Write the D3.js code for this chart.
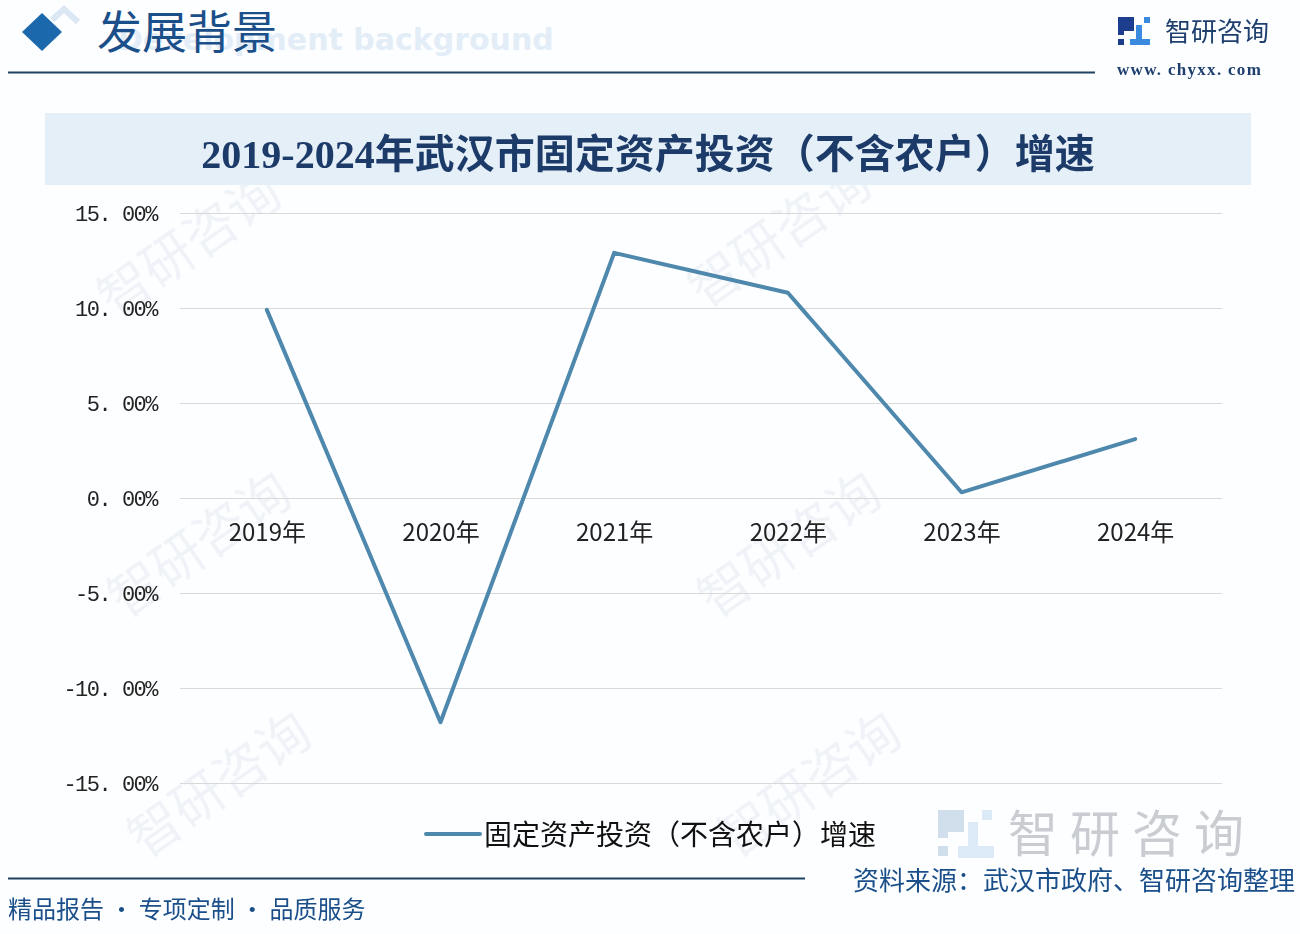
<!DOCTYPE html>
<html><head><meta charset="utf-8">
<script src="https://cdn.jsdelivr.net/npm/d3@7"></script>
<style>body{margin:0;background:#fff;} svg{display:block;}</style>
</head><body>
<svg id="c" width="1300" height="934"></svg>
<script>
const years = ["2019年","2020年","2021年","2022年","2023年","2024年"];
const growth = [9.9, -11.8, 12.9, 10.8, 0.3, 3.1];
const yTicks = [15, 10, 5, 0, -5, -10, -15];
const titleText = "2019-2024年武汉市固定资产投资（不含农户）增速";
const seriesName = "固定资产投资（不含农户）增速";

const svg = d3.select("#c");
const cjk = "'Noto Sans CJK SC','Noto Sans',sans-serif";

// background
svg.append("rect").attr("width",1300).attr("height",934).attr("fill","#fdfeff");

// watermarks
const wm = svg.append("g").attr("opacity",0.06);
[[200,260],[790,250],[210,560],[800,560],[230,800],[820,800]].forEach(([x,y])=>{
  wm.append("text").attr("transform",`translate(${x},${y}) rotate(-35)`)
    .attr("text-anchor","middle").attr("font-family",cjk).attr("font-size",52)
    .attr("fill","#1a4f8a").text("智研咨询");
});

// header
svg.append("path").attr("d","M22,32 L42,13 L62,32 L42,51 Z").attr("fill","#1c68ad");
svg.append("path").attr("d","M52,20 L64,9 L78,22").attr("fill","none").attr("stroke","#dbe7f2").attr("stroke-width",6);
svg.append("text").attr("x",118).attr("y",50).attr("font-family","'DejaVu Sans',sans-serif")
  .attr("font-weight","bold").attr("font-size",30).attr("fill","#e3edf7").text("Development background");
svg.append("text").attr("x",97).attr("y",49).attr("font-family",cjk).attr("font-size",45)
  .attr("fill","#1b4f8a").text("发展背景");
svg.append("line").attr("x1",8).attr("x2",1095).attr("y1",72.5).attr("y2",72.5)
  .attr("stroke","#1f4262").attr("stroke-width",2);

// logo top right
const lg = svg.append("g").attr("transform","translate(1118,17)");
lg.append("path").attr("d","M0,0 H16 V14 H6 V18 H0 Z").attr("fill","#1d3d8f");
lg.append("rect").attr("x",0).attr("y",22).attr("width",6).attr("height",6).attr("fill","#1d3d8f");
lg.append("path").attr("d","M18,8 H24 V22 H32 V28 H12 V22 H18 Z").attr("fill","#3a8ae0");
lg.append("rect").attr("x",26).attr("y",0).attr("width",6).attr("height",6).attr("fill","#3a8ae0");
svg.append("text").attr("x",1165).attr("y",41).attr("font-family",cjk).attr("font-size",26)
  .attr("fill","#1f3f6e").text("智研咨询");
svg.append("text").attr("x",1117).attr("y",75).attr("font-family","'Liberation Serif',serif")
  .attr("font-weight","bold").attr("font-size",17).attr("fill","#1f3f6e").attr("letter-spacing",1.3).text("www. chyxx. com");

// title box
svg.append("rect").attr("x",45).attr("y",113).attr("width",1206).attr("height",72).attr("fill","#e5eff8");
svg.append("text").attr("x",648).attr("y",168).attr("text-anchor","middle")
  .attr("font-family","'Liberation Serif','Noto Sans CJK SC',serif").attr("font-weight","bold")
  .attr("font-size",40).attr("fill","#1c3b68").text(titleText);

// scales
const x = d3.scalePoint().domain(years).range([180,1222]).padding(0.5);
const y = d3.scaleLinear().domain([-15,15]).range([783,213]);

// grid
svg.append("g").selectAll("line").data(yTicks).join("line")
  .attr("x1",180).attr("x2",1222).attr("y1",d=>y(d)+0.5).attr("y2",d=>y(d)+0.5)
  .attr("stroke","#d9d9d9").attr("stroke-width",1);

// y axis
const yAxis = d3.axisLeft(y).tickValues(yTicks).tickSize(0).tickPadding(0)
  .tickFormat(d=>d3.format(".2f")(d).replace(".",". ").replace("−","-")+"%");
const ya = svg.append("g").attr("transform","translate(157,0)").call(yAxis);
ya.select(".domain").remove();
ya.selectAll("text").attr("font-family","'Liberation Mono','DejaVu Sans Mono',monospace")
  .attr("font-size",22).attr("fill","#222").attr("dy","0.35em").attr("letter-spacing",-1.5);

// x axis labels at zero line
const xAxis = d3.axisBottom(x).tickSize(0).tickPadding(0);
const xa = svg.append("g").attr("transform",`translate(0,${y(0)})`).call(xAxis);
xa.select(".domain").remove();
xa.selectAll("text").attr("font-family",cjk).attr("font-size",24).attr("fill","#222")
  .attr("dy",0).attr("y",43);

// line
const line = d3.line().x((d,i)=>x(years[i])).y(d=>y(d));
svg.append("path").datum(growth).attr("d",line).attr("fill","none")
  .attr("stroke","#4f88ad").attr("stroke-width",4).attr("stroke-linejoin","round").attr("stroke-linecap","round");

// legend
svg.append("line").attr("x1",426).attr("x2",480).attr("y1",834).attr("y2",834)
  .attr("stroke","#4f88ad").attr("stroke-width",4).attr("stroke-linecap","round");
svg.append("text").attr("x",484).attr("y",845).attr("font-family",cjk).attr("font-size",28)
  .attr("fill","#111").text(seriesName);

// bottom watermark logo
const bl = svg.append("g").attr("transform","translate(938,810)").attr("opacity",0.35);
bl.append("path").attr("d","M0,0 H26 V22 H10 V28 H0 Z").attr("fill","#7fa3c8");
bl.append("rect").attr("x",0).attr("y",36).attr("width",10).attr("height",10).attr("fill","#7fa3c8");
bl.append("path").attr("d","M30,12 H40 V36 H56 V48 H20 V36 H30 Z").attr("fill","#9fc3e8");
bl.append("rect").attr("x",44).attr("y",0).attr("width",10).attr("height",10).attr("fill","#9fc3e8");
svg.append("text").attr("x",1008).attr("y",852).attr("font-family",cjk).attr("font-size",50)
  .attr("fill","#c9cdd2").attr("letter-spacing",12).text("智研咨询");

// footer
svg.append("line").attr("x1",8).attr("x2",805).attr("y1",878.5).attr("y2",878.5)
  .attr("stroke","#1f4262").attr("stroke-width",2);
svg.append("text").attr("x",8).attr("y",918).attr("font-family",cjk).attr("font-size",24)
  .attr("fill","#1b4f8a").text("精品报告 · 专项定制 · 品质服务");
svg.append("text").attr("x",1295).attr("y",890).attr("text-anchor","end").attr("font-family",cjk)
  .attr("font-size",26).attr("fill","#1b4f8a").text("资料来源：武汉市政府、智研咨询整理");
</script>
</body></html>
